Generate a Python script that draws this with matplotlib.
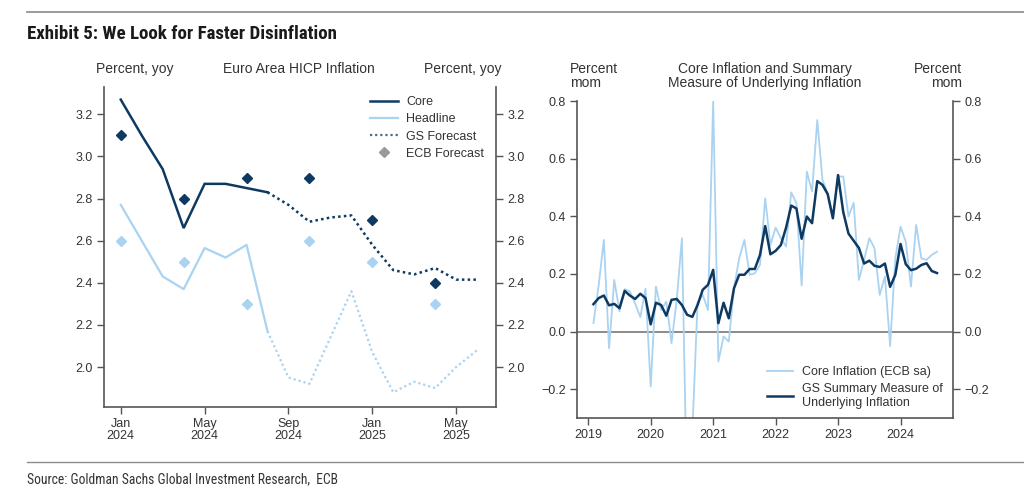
import matplotlib
matplotlib.use('Agg')
import matplotlib.pyplot as plt
from matplotlib import font_manager as fm
from matplotlib.lines import Line2D
from matplotlib.ticker import FormatStrFormatter

# ---------------- data ----------------
# Left panel: months since Jan 2024 (0 = Jan 2024)
core_actual_m = [0, 1, 2, 3, 4, 5, 6, 7]
core_actual = [3.27, 3.10, 2.94, 2.66, 2.87, 2.87, 2.85, 2.83]
head_actual = [2.77, 2.60, 2.43, 2.37, 2.565, 2.52, 2.58, 2.17]
fcst_m = [7, 8, 9, 10, 11, 12, 13, 14, 15, 16, 17]
core_fcst = [2.83, 2.77, 2.69, 2.71, 2.72, 2.58, 2.46, 2.44, 2.47, 2.415, 2.415]
head_fcst = [2.17, 1.95, 1.92, 2.14, 2.36, 2.07, 1.88, 1.93, 1.90, 2.00, 2.08]
ecb_m = [0, 3, 6, 9, 12, 15]
ecb_core = [3.1, 2.8, 2.9, 2.9, 2.7, 2.4]
ecb_head = [2.6, 2.5, 2.3, 2.6, 2.5, 2.3]
left_xticks = [0, 4, 8, 12, 16]
left_xlabels = ['Jan\n2024', 'May\n2024', 'Sep\n2024', 'Jan\n2025', 'May\n2025']
left_yticks = [2.0, 2.2, 2.4, 2.6, 2.8, 3.0, 3.2]

# Right panel: monthly, Feb 2019 .. Aug 2024
start_year, start_month = 2019, 2
gs_summary = [
    0.095, 0.116, 0.125, 0.091, 0.096, 0.081, 0.141, 0.125, 0.113, 0.131, 0.116,
    0.025, 0.100, 0.092, 0.055, 0.110, 0.113, 0.092, 0.058, 0.051, 0.092, 0.145, 0.162,
    0.214, 0.029, 0.100, 0.046, 0.150, 0.197, 0.197, 0.217, 0.217, 0.266, 0.366, 0.268,
    0.280, 0.300, 0.360, 0.437, 0.427, 0.322, 0.399, 0.376, 0.522, 0.509, 0.477, 0.393,
    0.543, 0.414, 0.340, 0.315, 0.290, 0.236, 0.246, 0.228, 0.224, 0.236, 0.155, 0.197,
    0.304, 0.234, 0.213, 0.218, 0.231, 0.237, 0.210, 0.203,
]
core_ecb_sa = [
    0.030, 0.160, 0.318, -0.058, 0.179, 0.070, 0.147, 0.139, 0.098, 0.050, 0.149,
    -0.190, 0.156, 0.075, 0.104, -0.040, 0.110, 0.324, -0.600, -0.350, 0.100, 0.127, 0.075,
    0.800, -0.104, -0.017, -0.035, 0.150, 0.254, 0.318, 0.197, 0.202, 0.231, 0.462, 0.300,
    0.361, 0.324, 0.295, 0.483, 0.445, 0.160, 0.555, 0.486, 0.734, 0.526, 0.480, 0.400,
    0.538, 0.538, 0.399, 0.447, 0.179, 0.249, 0.324, 0.289, 0.127, 0.191, -0.050, 0.254,
    0.364, 0.312, 0.156, 0.370, 0.254, 0.249, 0.266, 0.277,
]
right_xticks = [2019, 2020, 2021, 2022, 2023, 2024]
right_yticks = [-0.2, 0.0, 0.2, 0.4, 0.6, 0.8]

# ---------------- style ----------------
avail = {f.name for f in fm.fontManager.ttflist}
base = 'Liberation Sans' if 'Liberation Sans' in avail else 'DejaVu Sans'
narrow = base
for cand in ['Liberation Sans Narrow', 'Roboto Condensed', 'Open Sans Condensed']:
    if cand in avail:
        narrow = cand
        break
plt.rcParams['font.family'] = [base, 'DejaVu Sans']

DARK = '#0e3a62'
LIGHT = '#a9d3f1'
SPINE = '#555555'
TXT = '#333333'

fig = plt.figure(figsize=(10.24, 4.92), dpi=100)
fig.patch.set_facecolor('white')
W, H = 1024.0, 492.0

# rules
fig.add_artist(Line2D([27 / W, 1.0], [1 - 12 / H] * 2, color='#8a8a8a', lw=1.2, transform=fig.transFigure))
fig.add_artist(Line2D([27 / W, 1.0], [1 - 462 / H] * 2, color='#8a8a8a', lw=1.0, transform=fig.transFigure))
fig.text(27 / W, 1 - 34 / H, 'Exhibit 5: We Look for Faster Disinflation', fontsize=13.6,
         fontweight='bold', family=[narrow, 'DejaVu Sans'], va='center', ha='left', color='#1a1a1a')
fig.text(27 / W, 1 - 479 / H, 'Source: Goldman Sachs Global Investment Research,  ECB', fontsize=9.8,
         family=[narrow, 'DejaVu Sans'], va='center', ha='left', color=TXT)


def style_axes(ax):
    ax.spines['top'].set_visible(False)
    for s in ['left', 'right', 'bottom']:
        ax.spines[s].set_color(SPINE)
        ax.spines[s].set_linewidth(1.2)
    ax.tick_params(axis='both', direction='out', length=5, width=1.0, color=SPINE,
                   labelcolor=TXT, labelsize=9, pad=3)
    ax.tick_params(axis='y', left=True, right=True, labelleft=True, labelright=True)
    ax.set_facecolor('white')


# ---------------- left panel ----------------
ax1 = fig.add_axes([104 / W, 1 - 407 / H, (496 - 104) / W, (407 - 87) / H])
style_axes(ax1)
ax1.plot(core_actual_m, core_actual, color=DARK, lw=1.8, solid_joinstyle='miter')
ax1.plot(core_actual_m, head_actual, color=LIGHT, lw=1.6)
ax1.plot(fcst_m, core_fcst, color=DARK, lw=1.8, ls=(0, (1, 1.3)))
ax1.plot(fcst_m, head_fcst, color=LIGHT, lw=1.6, ls=(0, (1, 1.3)))
ax1.plot(ecb_m, ecb_core, 'D', color=DARK, ms=5, ls='none')
ax1.plot(ecb_m, ecb_head, 'D', color=LIGHT, ms=5, ls='none')
ax1.set_xlim(-0.8, 17.9)
ax1.set_ylim(1.81, 3.33)
ax1.set_xticks(left_xticks)
ax1.set_xticklabels(left_xlabels, linespacing=1.0)
ax1.set_yticks(left_yticks)
ax1.yaxis.set_major_formatter(FormatStrFormatter('%.1f'))

handles1 = [
    Line2D([], [], color=DARK, lw=1.8),
    Line2D([], [], color=LIGHT, lw=1.6),
    Line2D([], [], color='#4a6d8c', lw=1.6, ls=(0, (1, 1.3))),
    Line2D([], [], color='#9a9a9a', marker='D', ms=5, ls='none'),
]
ax1.legend(handles1, ['Core', 'Headline', 'GS Forecast', 'ECB Forecast'], loc='upper left',
           bbox_to_anchor=((370 - 104) / 392, (407 - 96) / 320), frameon=False, fontsize=9,
           borderpad=0, borderaxespad=0, handlelength=2.2, handletextpad=0.7,
           labelspacing=0.42, labelcolor=TXT)

fig.text(135 / W, 1 - 69 / H, 'Percent, yoy', fontsize=10, ha='center', va='center', color=TXT)
fig.text(299 / W, 1 - 69 / H, 'Euro Area HICP Inflation', fontsize=10, ha='center', va='center', color=TXT)
fig.text(463 / W, 1 - 69 / H, 'Percent, yoy', fontsize=10, ha='center', va='center', color=TXT)

# ---------------- right panel ----------------
n = len(gs_summary)
xs = [start_year + (start_month - 1 + i) / 12.0 for i in range(n)]
ax2 = fig.add_axes([577 / W, 1 - 418 / H, (953 - 577) / W, (418 - 101) / H])
style_axes(ax2)
ax2.axhline(0, color='#777777', lw=1.2, zorder=1)
ax2.plot(xs, core_ecb_sa, color=LIGHT, lw=1.3, zorder=2, label='Core Inflation (ECB sa)')
ax2.plot(xs, gs_summary, color=DARK, lw=1.8, zorder=3, label='GS Summary Measure of\nUnderlying Inflation')
ax2.set_xlim(2018.82, 2024.84)
ax2.set_ylim(-0.3, 0.8)
ax2.set_xticks(right_xticks)
ax2.set_xticklabels([str(y) for y in right_xticks])
ax2.set_yticks(right_yticks)
ax2.set_yticklabels(['\u22120.2', '0.0', '0.2', '0.4', '0.6', '0.8'])
ax2.legend(loc='upper left', bbox_to_anchor=((767 - 577) / 376, (418 - 366) / 317), frameon=False,
           fontsize=9, borderpad=0, borderaxespad=0, handlelength=2.1, handletextpad=0.7,
           labelspacing=0.4, labelcolor=TXT)

fig.text(570 / W, 1 - 76 / H, 'Percent\nmom', fontsize=10, ha='left', va='center', color=TXT, linespacing=1.05)
fig.text(765 / W, 1 - 76 / H, 'Core Inflation and Summary\nMeasure of Underlying Inflation', fontsize=10,
         ha='center', va='center', color=TXT, linespacing=1.05)
fig.text(962 / W, 1 - 76 / H, 'Percent\nmom', fontsize=10, ha='right', va='center', color=TXT, linespacing=1.05)

fig.savefig('out.png', dpi=100, facecolor='white')
